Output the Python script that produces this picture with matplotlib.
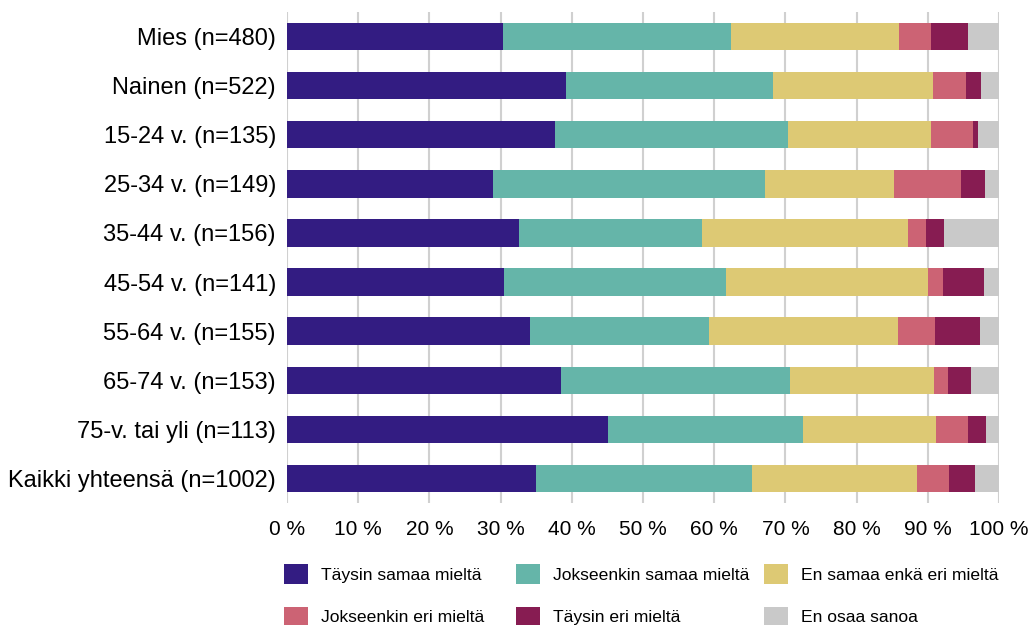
import matplotlib.pyplot as plt
import numpy as np

plt.rcParams['font.family'] = ['Liberation Sans', 'DejaVu Sans']

# Ryhmät ylhäältä alas
ryhmat = ['Mies (n=480)', 'Nainen (n=522)', '15-24 v. (n=135)', '25-34 v. (n=149)',
          '35-44 v. (n=156)', '45-54 v. (n=141)', '55-64 v. (n=155)', '65-74 v. (n=153)',
          '75-v. tai yli (n=113)', 'Kaikki yhteensä (n=1002)']

# Osuudet prosentteina
taysin_samaa = [30.4, 39.2, 37.7, 28.9, 32.6, 30.5, 34.1, 38.5, 45.1, 35.0]
jokseenkin_samaa = [31.9, 29.0, 32.6, 38.2, 25.7, 31.2, 25.2, 32.1, 27.4, 30.3]
ei_samaa_eika_eri = [23.7, 22.6, 20.1, 18.1, 28.9, 28.3, 26.5, 20.3, 18.7, 23.2]
jokseenkin_eri = [4.5, 4.6, 5.9, 9.5, 2.5, 2.2, 5.2, 1.9, 4.4, 4.5]
taysin_eri = [5.1, 2.1, 0.8, 3.3, 2.6, 5.7, 6.4, 3.3, 2.6, 3.6]
ei_osaa = [4.4, 2.5, 2.9, 2.0, 7.7, 2.1, 2.6, 3.9, 1.8, 3.4]

sarjat = ['Täysin samaa mieltä', 'Jokseenkin samaa mieltä', 'En samaa enkä eri mieltä',
          'Jokseenkin eri mieltä', 'Täysin eri mieltä', 'En osaa sanoa']
arvot = [taysin_samaa, jokseenkin_samaa, ei_samaa_eika_eri, jokseenkin_eri, taysin_eri, ei_osaa]
varit = ['#331c82', '#65b5a9', '#ddc974', '#cc6374', '#871c52', '#c9c9c9']

fig = plt.figure(figsize=(10.32, 6.25), dpi=100)
ax = fig.add_axes([287 / 1032, 1 - 503 / 625, 712 / 1032, 491 / 625])

y = np.arange(len(ryhmat))
vasen = np.zeros(len(ryhmat))
kahvat = []
for nimi, data, vari in zip(sarjat, arvot, varit):
    data = np.array(data)
    b = ax.barh(y, data, left=vasen, height=0.56, color=vari, label=nimi, zorder=3)
    kahvat.append(b)
    vasen += data

ax.set_xlim(0, 100)
ax.set_ylim(len(ryhmat) - 0.5, -0.5)
ax.set_yticks(y)
ax.set_yticklabels(ryhmat, fontsize=17)
ax.set_xticks(np.arange(0, 101, 10))
ax.set_xticklabels([f'{v} %' for v in range(0, 101, 10)], fontsize=15)
ax.tick_params(axis='both', length=0)
ax.tick_params(axis='y', pad=8)
ax.tick_params(axis='x', pad=12)
ax.grid(axis='x', color='#d0d0d0', linewidth=1.5, zorder=0)
for s in ax.spines.values():
    s.set_visible(False)

# Selite kolmena sarakkeena, kaksi riviä kussakin
sarakkeiden_x = [284, 516, 764]
for k, x0 in enumerate(sarakkeiden_x):
    leg = fig.legend([kahvat[k], kahvat[k + 3]], [sarjat[k], sarjat[k + 3]],
                     loc='upper left', bbox_to_anchor=(x0 / 1032, 1 - 564 / 625),
                     frameon=False, fontsize=12.6, handlelength=1.37, handleheight=1.37,
                     handletextpad=0.75, labelspacing=1.3, borderpad=0, borderaxespad=0)

fig.savefig('out.png', dpi=100)
